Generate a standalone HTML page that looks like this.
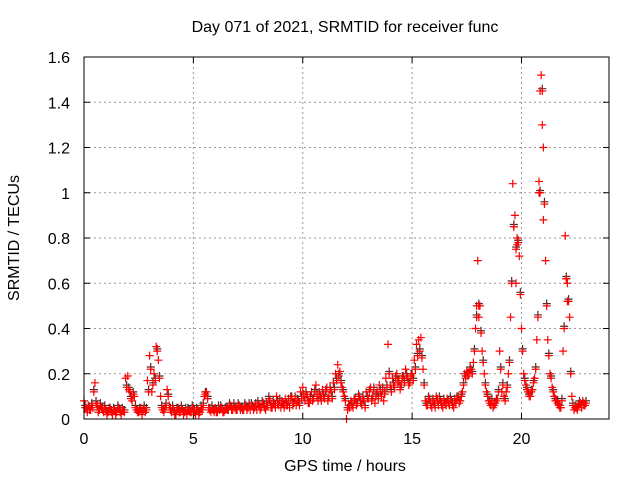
<!DOCTYPE html>
<html><head><meta charset="utf-8"><style>
body{margin:0;background:#fff;}
svg{display:block;font-family:"Liberation Sans",sans-serif;}
</style></head><body>
<svg id="chart" width="640" height="480">
<text x="345" y="32" text-anchor="middle" font-size="16">Day 071 of 2021, SRMTID for receiver func</text>
<text transform="translate(19,238) rotate(-90)" text-anchor="middle" font-size="16">SRMTID / TECUs</text>
<text x="345" y="471" text-anchor="middle" font-size="16">GPS time / hours</text>
<g id="grid"></g><g id="ticks"></g><g id="marks"></g>
<rect x="84" y="57" width="525" height="362" fill="none" stroke="#000" stroke-width="1"/>
</svg>
<script>
const xTicks=[0,5,10,15,20];
const yTicks=[0,0.2,0.4,0.6,0.8,1,1.2,1.4,1.6];
const yTickLabels=["0","0.2","0.4","0.6","0.8","1","1.2","1.4","1.6"];
const timeStep=0.1;
const srmtid=[.08,.05,.06,.04,.05,.16,.06,.04,.05,.03,
.04,.03,.05,.02,.04,.03,.05,.02,.04,.18,
.19,.12,.08,.10,.04,.03,.05,.04,.03,.17,
.28,.12,.20,.32,.26,.10,.04,.05,.13,.06,
.03,.04,.02,.05,.03,.04,.03,.02,.04,.03,
.05,.02,.04,.03,.04,.10,.12,.05,.03,.04,
.05,.03,.04,.05,.03,.05,.04,.06,.04,.05,
.04,.06,.05,.04,.06,.05,.04,.06,.05,.04,
.06,.05,.07,.04,.06,.08,.05,.07,.10,.06,
.05,.07,.09,.06,.05,.10,.07,.06,.08,.12,
.14,.08,.10,.07,.12,.09,.15,.08,.10,.13,
.09,.14,.10,.12,.16,.20,.24,.21,.14,.10,
.00,.06,.08,.05,.09,.07,.10,.06,.08,.12,
.09,.14,.10,.07,.12,.15,.10,.08,.18,.33,
.15,.18,.14,.20,.17,.15,.19,.22,.18,.16,
.20,.26,.33,.35,.36,.22,.08,.06,.09,.05,
.07,.10,.06,.08,.05,.07,.09,.06,.08,.05,
.07,.10,.08,.12,.20,.21,.20,.22,.25,.40,
.70,.50,.30,.20,.12,.08,.06,.05,.07,.09,
.30,.12,.10,.12,.20,.45,1.04,.90,.80,.72,
.40,.20,.15,.12,.10,.13,.18,.35,1.05,1.52,
1.20,.70,.35,.20,.14,.10,.08,.06,.05,.30,
.81,.60,.45,.10,.04,.05,.06,.07,.08,.06];
const srmtidB=[.05,.03,.04,.06,.12,.07,.03,.06,.04,.05,
.02,.04,.03,.04,.02,.05,.03,.04,.03,.14,
.13,.09,.11,.05,.03,.04,.02,.05,.04,.12,
.22,.15,.17,.30,.18,.05,.03,.06,.10,.04,
.05,.02,.04,.03,.05,.02,.04,.04,.03,.05,
.03,.04,.02,.05,.06,.11,.09,.04,.05,.03,
.03,.05,.05,.03,.04,.04,.06,.04,.06,.04,
.06,.04,.04,.06,.04,.06,.06,.04,.06,.07,
.04,.07,.05,.06,.09,.05,.07,.05,.07,.08,
.07,.05,.06,.08,.09,.06,.09,.08,.06,.09,
.10,.11,.07,.09,.08,.12,.10,.11,.08,.10,
.12,.08,.13,.09,.13,.17,.19,.16,.12,.08,
.04,.05,.06,.08,.06,.10,.07,.09,.05,.09,
.12,.08,.13,.10,.09,.12,.13,.11,.14,.20,
.12,.15,.18,.16,.13,.18,.16,.19,.15,.19,
.17,.22,.28,.30,.27,.15,.06,.09,.06,.08,
.05,.08,.09,.06,.08,.06,.07,.09,.06,.08,
.09,.07,.10,.15,.18,.19,.22,.20,.30,.45,
.50,.38,.25,.15,.10,.07,.08,.06,.08,.12,
.22,.15,.08,.14,.25,.60,.85,.75,.78,.55,
.30,.17,.13,.10,.12,.16,.22,.45,1.00,1.45,
.95,.50,.28,.18,.12,.08,.07,.05,.08,.40,
.62,.52,.20,.06,.05,.04,.07,.05,.06,.07];
const spikeTimes=[19.65,19.75,19.8,20.85,20.95,21.0,20.8,22.05,22.1,17.95,18.05];
const spikeValues=[.85,.6,.77,1.45,1.3,.88,1.0,.62,.52,.5,.45];
const NS='http://www.w3.org/2000/svg';
const X0=84,X1=609,Y0=419,Y1=57,XMAX=24,YMAX=1.6;
const xs=t=>X0+(t/XMAX)*(X1-X0);
const ys=v=>Y0-(v/YMAX)*(Y0-Y1);
function mk(tag,attrs,parent){const e=document.createElementNS(NS,tag);for(const k in attrs)e.setAttribute(k,attrs[k]);parent.appendChild(e);return e;}
const grid=document.getElementById('grid'),ticks=document.getElementById('ticks'),marks=document.getElementById('marks');
xTicks.forEach(t=>{const x=xs(t);
 if(t>0){const g=mk('line',{x1:x,x2:x,y1:Y1,y2:Y0,stroke:'#999','stroke-dasharray':'2,3'},grid);
 
 }
 mk('line',{x1:x,x2:x,y1:Y0,y2:Y0-6,stroke:'#000'},ticks);
 mk('line',{x1:x,x2:x,y1:Y1,y2:Y1+6,stroke:'#000'},ticks);
 const l=mk('text',{x:x,y:Y0+25,'text-anchor':'middle','font-size':'16'},ticks);l.textContent=t;
 
 });
yTicks.forEach((v,i)=>{const y=ys(v);
 if(v>0&&v<YMAX){const g=mk('line',{x1:X0,x2:X1,y1:y,y2:y,stroke:'#999','stroke-dasharray':'2,3'},grid);
 
 }
 mk('line',{x1:X0,x2:X0+6,y1:y,y2:y,stroke:'#000'},ticks);
 mk('line',{x1:X1,x2:X1-6,y1:y,y2:y,stroke:'#000'},ticks);
 const l=mk('text',{x:X0-14,y:y+6,'text-anchor':'end','font-size':'16'},ticks);l.textContent=yTickLabels[i];
 
 });
function cross(t,v,c){const x=xs(t),y=ys(v);
 const p=mk('path',{d:`M${x-4},${y}H${x+4}M${x},${y-4}V${y+4}`,stroke:c,'stroke-width':'1.2',fill:'none'},marks);
 
 }
srmtidB.forEach((v,i)=>cross(i*timeStep+0.05,v+0.01,'#333'));
srmtid.forEach((v,i)=>cross(i*timeStep,v,'#f00'));
srmtidB.forEach((v,i)=>cross(i*timeStep+0.05,v,'#f00'));
spikeTimes.forEach((t,i)=>cross(t,spikeValues[i],'#f00'));
</script>
</body></html>
